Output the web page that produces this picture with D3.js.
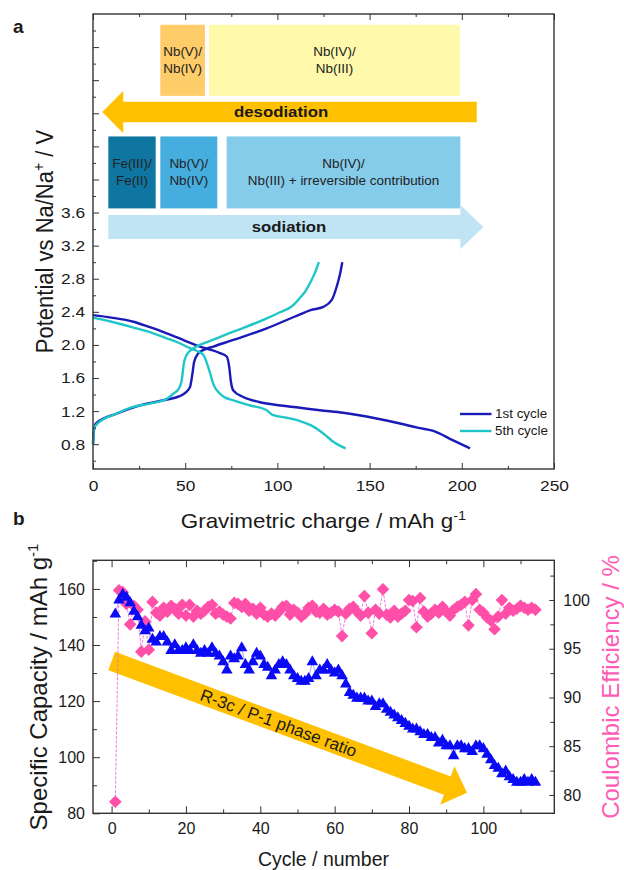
<!DOCTYPE html>
<html>
<head>
<meta charset="utf-8">
<script src="https://cdn.jsdelivr.net/npm/d3@7"></script>
<style>
  html, body { margin: 0; padding: 0; background: #fff; }
  svg { display: block; font-family: "Liberation Sans", Arial, sans-serif; }
</style>
</head>
<body>
<svg id="chart" width="624" height="870"></svg>
<script>
// ---------- panel a : galvanostatic profiles [capacity mAh/g, potential V] ----------
const cycle1Sodiation = [
  [0, 2.36], [10, 2.33], [21.9, 2.28], [30, 2.22], [40, 2.14], [50, 2.05], [58, 1.98],
  [64, 1.94], [68.9, 1.9], [72.5, 1.86], [73.9, 1.73], [74.7, 1.57], [76.1, 1.45],
  [81.5, 1.37], [90, 1.31], [97.8, 1.28], [112.3, 1.24], [123, 1.21], [135.7, 1.18],
  [153.8, 1.11], [166.5, 1.05], [176, 1.0], [184.6, 0.96], [195, 0.85], [204.4, 0.75]
];
const cycle1Desodiation = [
  [0, 0.8], [0.5, 0.96], [1.5, 1.05], [12.8, 1.17], [25.5, 1.27], [40, 1.34], [47, 1.38],
  [50, 1.42], [52.6, 1.49], [53.9, 1.65], [54.8, 1.79], [57.1, 1.9], [60, 1.94],
  [65.2, 1.98], [76.1, 2.06], [94.2, 2.2], [112.3, 2.37], [118, 2.42], [124.9, 2.46],
  [129.4, 2.54], [132.1, 2.7], [134, 2.86], [135.2, 3.0]
];
const cycle5Sodiation = [
  [0, 2.33], [10, 2.28], [21.9, 2.21], [30, 2.16], [40, 2.08], [47, 2.02], [52.6, 1.96],
  [57, 1.92], [59.8, 1.88], [62.5, 1.73], [64, 1.62], [65.2, 1.53], [68.9, 1.41],
  [72, 1.36], [76.1, 1.33], [85, 1.27], [94.2, 1.21], [97.8, 1.15], [105, 1.12],
  [112.3, 1.08], [118, 1.03], [123.1, 0.96], [127, 0.89], [130.3, 0.83], [137, 0.75]
];
const cycle5Desodiation = [
  [0, 0.8], [0.5, 0.98], [2, 1.04], [12.8, 1.17], [20, 1.24], [30.9, 1.29], [40, 1.35],
  [43.6, 1.41], [46.5, 1.47], [48.1, 1.57], [49.3, 1.78], [50.8, 1.88], [54, 1.95],
  [58, 2.0], [65, 2.06], [76.1, 2.16], [94.2, 2.32], [100, 2.38], [108.6, 2.48],
  [112.3, 2.57], [115.5, 2.66], [118, 2.76], [120.5, 2.88], [122.5, 3.0]
];
const profileSeries = [
  { name: "1st cycle", color: "#1a1ab8", parts: [cycle1Sodiation, cycle1Desodiation] },
  { name: "5th cycle", color: "#1fc6c8", parts: [cycle5Sodiation, cycle5Desodiation] }
];

// redox regions (capacity range, potential range) and process arrows
const desodiationBoxes = [
  { x0: 36.5, x1: 60.7, v0: 5.01, v1: 5.87, fill: "#ffcc6a", lines: ["Nb(V)/", "Nb(IV)"] },
  { x0: 62.9, x1: 199.0, v0: 5.01, v1: 5.87, fill: "#fef9ab", lines: ["Nb(IV)/", "Nb(III)"] }
];
const sodiationBoxes = [
  { x0: 8.3, x1: 34.0, v0: 3.65, v1: 4.52, fill: "#0f76a1", lines: ["Fe(III)/", "Fe(II)"] },
  { x0: 36.5, x1: 67.4, v0: 3.65, v1: 4.52, fill: "#46aedf", lines: ["Nb(V)/", "Nb(IV)"] },
  { x0: 72.5, x1: 199.2, v0: 3.65, v1: 4.52, fill: "#85cbea", lines: ["Nb(IV)/", "Nb(III) + irreversible contribution"] }
];
const processArrows = [
  { label: "desodiation", fill: "#ffc000", tail: 208.1, base: 16.4, tip: 5.0, mid: 4.815, body: 0.125, head: 0.255, labelX: 102 },
  { label: "sodiation", fill: "#c1e4f5", tail: 8.3, base: 199.2, tip: 211.7, mid: 3.425, body: 0.145, head: 0.27, labelX: 106.3 }
];

const capTicks = [0, 50, 100, 150, 200, 250];
const capMinor = [25, 75, 125, 175, 225];
const voltTicks = [0.8, 1.2, 1.6, 2.0, 2.4, 2.8, 3.2, 3.6, 4.0, 4.4, 4.8, 5.2, 5.6];
const voltLabelMax = 3.6;
const voltMinor = [0.6, 1.0, 1.4, 1.8, 2.2, 2.6, 3.0, 3.4, 3.8, 4.2, 4.6, 5.0, 5.4, 5.8];

// ---------- panel b : cycling (index + 1 = cycle number) ----------
const specificCapacity = [
  151, 156, 158, 157, 155, 152, 150, 147, 145, 146,
  142, 141, 143, 143, 141, 138, 140, 138, 138, 139,
  138, 140, 138, 137, 138, 137, 139, 137, 136, 134,
  131, 136, 135, 136, 139, 133, 131, 134, 137, 136,
  133, 132, 129, 131, 133, 134, 133, 131, 129, 128,
  127, 127, 128, 134, 129, 131, 131, 133, 131, 130,
  131, 129, 126, 123, 122, 121, 121, 121, 120, 120,
  118, 119, 119, 117, 116, 115, 114, 113, 112, 111,
  110, 110, 109, 108, 108, 107, 107, 105, 106, 104,
  104, 100.5, 104, 104, 103, 103, 102, 104, 104, 103,
  101, 99, 97, 96, 94, 95, 93, 92, 91, 91,
  92, 91, 92, 91
];
const coulombicEfficiency = [
  79.3, 101.0, 100.8, 99.6, 97.5, 99.4, 99.0, 94.7, 97.8, 94.9,
  99.8, 98.7, 98.4, 99.2, 98.8, 99.4, 99.1, 98.6, 99.5, 98.4,
  99.5, 98.3, 98.9, 98.6, 98.9, 99.3, 99.5, 98.6, 98.8, 98.5,
  98.3, 98.1, 99.7, 99.6, 99.3, 99.6, 98.9, 99.1, 98.6, 99.2,
  98.5, 98.3, 98.6, 98.4, 98.8, 99.3, 99.4, 98.5, 99.0, 98.7,
  98.3, 98.6, 99.2, 99.4, 98.8, 98.7, 99.1, 98.5, 98.7, 99.0,
  98.8, 96.3, 98.6, 99.1, 99.3, 98.8, 98.4, 100.4, 98.7, 96.6,
  99.0, 98.6, 101.1, 98.5, 98.2, 98.9, 98.3, 98.6, 98.9, 100.0,
  99.9, 97.2, 100.2, 98.8, 98.3, 98.6, 99.0, 98.7, 99.3, 98.8,
  98.4, 99.0, 99.3, 99.5, 99.8, 97.4, 100.0, 100.6, 99.0, 98.7,
  98.2, 97.9, 97.0, 98.3, 100.0, 98.6, 99.2, 98.9, 99.1, 99.4,
  99.2, 99.0, 99.2, 99.0
];
// phase-ratio trend arrow, from (cycle, capacity) to (cycle, capacity)
const phaseArrow = { from: [0.03, 134.3], to: [95.6, 87.3], label: "R-3c / P-1  phase ratio" };

const cycleTicks = [0, 20, 40, 60, 80, 100];
const cycleMinor = [10, 30, 50, 70, 90, 110];
const capBTicks = [80, 100, 120, 140, 160];
const capBMinor = [90, 110, 130, 150, 170];
const ceTicks = [80, 85, 90, 95, 100];
const ceMinor = [82.5, 87.5, 92.5, 97.5, 102.5];

// ---------- drawing ----------
const svg = d3.select("#chart");
const INK = "#1a1a1a";
const FRAME = "#333";
const SX_A = 1.12;   // panel a type is drawn a little wide

const xA = d3.scaleLinear().domain([0, 250]).range([93, 554]);
const yA = d3.scaleLinear().domain([0.5, 6.0]).range([469, 14]);
const xB = d3.scaleLinear().domain([-5, 119]).range([93, 554]);
const yB = d3.scaleLinear().domain([80, 170.2]).range([813.3, 560.3]);
const yCE = d3.scaleLinear().domain([78.12, 104.07]).range([813.3, 560.3]);

function wideText(g, x, y, sx, rot) {
  return g.append("text")
    .attr("transform", `translate(${x},${y}) scale(${sx},1)` + (rot ? ` rotate(${rot})` : ""));
}

function styleAxis(sel, sx, size) {
  sel.select(".domain").remove();
  sel.selectAll(".tick line").attr("stroke", FRAME).attr("stroke-width", 1);
  sel.selectAll(".tick text")
    .attr("fill", INK)
    .attr("font-size", size)
    .attr("font-family", "Liberation Sans, Arial, sans-serif")
    .attr("transform", `scale(${sx},1)`);
}

function drawAxis(g, axis, tx, ty, sx, size) {
  const a = g.append("g").attr("transform", `translate(${tx},${ty})`).call(axis);
  styleAxis(a, sx, size);
  return a;
}

// ===== panel a =====
const gA = svg.append("g");

// redox boxes
function drawBoxes(list) {
  list.forEach(b => {
    const x0 = xA(b.x0), x1 = xA(b.x1), y0 = yA(b.v1), y1 = yA(b.v0);
    gA.append("rect").attr("x", x0).attr("y", y0).attr("width", x1 - x0).attr("height", y1 - y0)
      .attr("fill", b.fill);
    const cy = (y0 + y1) / 2;
    b.lines.forEach((ln, i) => {
      wideText(gA, (x0 + x1) / 2, cy + (i - (b.lines.length - 1) / 2) * 16.5 + 4.3, SX_A)
        .attr("text-anchor", "middle").attr("font-size", 12).attr("fill", "#222").text(ln);
    });
  });
}
drawBoxes(desodiationBoxes);
drawBoxes(sodiationBoxes);

// process arrows
processArrows.forEach(a => {
  const yTop = yA(a.mid + a.body), yBot = yA(a.mid - a.body);
  const hTop = yA(a.mid + a.head), hBot = yA(a.mid - a.head), yMid = yA(a.mid);
  const pts = [
    [xA(a.tail), yTop], [xA(a.base), yTop], [xA(a.base), hTop], [xA(a.tip), yMid],
    [xA(a.base), hBot], [xA(a.base), yBot], [xA(a.tail), yBot]
  ];
  gA.append("polygon").attr("points", pts.map(p => p.join(",")).join(" ")).attr("fill", a.fill);
  wideText(gA, xA(a.labelX), yMid + 5.3, SX_A)
    .attr("text-anchor", "middle").attr("font-size", 15).attr("font-weight", "bold")
    .attr("fill", INK).text(a.label);
});

// profiles
const lineA = d3.line().x(d => xA(d[0])).y(d => yA(d[1])).curve(d3.curveMonotoneX);
profileSeries.forEach(s => {
  s.parts.forEach(p => {
    gA.append("path").attr("d", lineA(p)).attr("fill", "none")
      .attr("stroke", s.color).attr("stroke-width", 2.4).attr("stroke-linejoin", "round");
  });
});

// legend
profileSeries.forEach((s, i) => {
  const ly = 414 + i * 17;
  gA.append("line").attr("x1", 460).attr("x2", 491.5).attr("y1", ly).attr("y2", ly)
    .attr("stroke", s.color).attr("stroke-width", 2.4);
  wideText(gA, 495, ly + 4.3, SX_A).attr("font-size", 12).attr("fill", INK).text(s.name);
});

// axes a
drawAxis(gA, d3.axisBottom(xA).tickValues(capTicks).tickSize(-6).tickPadding(11).tickFormat(d3.format("d")), 0, 469, SX_A, 15.5);
drawAxis(gA, d3.axisBottom(xA).tickValues(capMinor).tickSize(-3).tickFormat(""), 0, 469, 1, 10);
drawAxis(gA, d3.axisTop(xA).tickValues(capTicks).tickSize(-6).tickFormat(""), 0, 14, 1, 10);
drawAxis(gA, d3.axisTop(xA).tickValues(capMinor).tickSize(-3).tickFormat(""), 0, 14, 1, 10);
drawAxis(gA, d3.axisLeft(yA).tickValues(voltTicks).tickSize(-6).tickPadding(7)
  .tickFormat(d => d <= voltLabelMax + 1e-9 ? d.toFixed(1) : ""), 93, 0, SX_A, 15.5);
drawAxis(gA, d3.axisLeft(yA).tickValues(voltMinor).tickSize(-3).tickFormat(""), 93, 0, 1, 10);

gA.append("rect").attr("x", 93).attr("y", 14).attr("width", 461).attr("height", 455)
  .attr("fill", "none").attr("stroke", FRAME).attr("stroke-width", 1.4);

// titles a
const tYA = wideText(gA, 53, 241.5, SX_A, -90).attr("text-anchor", "middle")
  .attr("font-size", 22).attr("fill", INK);
tYA.append("tspan").text("Potential vs Na/Na");
tYA.append("tspan").attr("dy", -8).attr("font-size", 14).text("+");
tYA.append("tspan").attr("dy", 8).text(" / V");

const tXA = wideText(gA, 323.5, 528, SX_A).attr("text-anchor", "middle")
  .attr("font-size", 20).attr("fill", INK);
tXA.append("tspan").text("Gravimetric charge / mAh g");
tXA.append("tspan").attr("dy", -8).attr("font-size", 13).text("-1");

wideText(gA, 13, 33, 1).attr("font-size", 19).attr("font-weight", "bold").attr("fill", INK).text("a");

// ===== panel b =====
const gB = svg.append("g");

// phase-ratio arrow
{
  const p0 = [xB(phaseArrow.from[0]), yB(phaseArrow.from[1])];
  const p1 = [xB(phaseArrow.to[0]), yB(phaseArrow.to[1])];
  const dx = p1[0] - p0[0], dy = p1[1] - p0[1], len = Math.hypot(dx, dy);
  const u = [dx / len, dy / len], n = [-u[1], u[0]];
  const bw = 19.5 / 2, hw = 41 / 2, hl = 21;
  const hb = [p1[0] - u[0] * hl, p1[1] - u[1] * hl];
  const off = (p, s) => [p[0] + n[0] * s, p[1] + n[1] * s];
  const pts = [off(p0, -bw), off(hb, -bw), off(hb, -hw), p1, off(hb, hw), off(hb, bw), off(p0, bw)];
  gB.append("polygon").attr("points", pts.map(p => p.join(",")).join(" ")).attr("fill", "#ffc000");
  const ang = Math.atan2(dy, dx) * 180 / Math.PI;
  const c = [p0[0] + u[0] * len * 0.47, p0[1] + u[1] * len * 0.47];
  gB.append("text").attr("transform", `translate(${c[0]},${c[1]}) rotate(${ang})`)
    .attr("text-anchor", "middle").attr("dy", "0.35em").attr("font-size", 17)
    .attr("fill", INK).text(phaseArrow.label);
}

// connecting lines
const ceLine = d3.line().x((d, i) => xB(i + 1)).y(d => yCE(d));
const capLine = d3.line().x((d, i) => xB(i + 1)).y(d => yB(d));
gB.append("path").attr("d", ceLine(coulombicEfficiency)).attr("fill", "none")
  .attr("stroke", "#f06ad6").attr("stroke-width", 0.9).attr("stroke-dasharray", "3,1.5");
gB.append("path").attr("d", capLine(specificCapacity)).attr("fill", "none")
  .attr("stroke", "#7f7fff").attr("stroke-width", 0.7);

// markers
const diamond = d3.symbol().type(d3.symbolSquare).size(80);
gB.append("g").selectAll("path").data(coulombicEfficiency).join("path")
  .attr("d", diamond)
  .attr("transform", (d, i) => `translate(${xB(i + 1)},${yCE(d)}) rotate(45)`)
  .attr("fill", "#ff4fa8");
const tri = d3.symbol().type(d3.symbolTriangle).size(58);
gB.append("g").selectAll("path").data(specificCapacity).join("path")
  .attr("d", tri)
  .attr("transform", (d, i) => `translate(${xB(i + 1)},${yB(d)})`)
  .attr("fill", "#0a0af5");

// axes b
drawAxis(gB, d3.axisBottom(xB).tickValues(cycleTicks).tickSize(-7).tickPadding(9).tickFormat(d3.format("d")), 0, 813.3, 1, 16);
drawAxis(gB, d3.axisBottom(xB).tickValues(cycleMinor).tickSize(-4).tickFormat(""), 0, 813.3, 1, 10);
drawAxis(gB, d3.axisTop(xB).tickValues(cycleTicks).tickSize(-7).tickFormat(""), 0, 560.3, 1, 10);
drawAxis(gB, d3.axisTop(xB).tickValues(cycleMinor).tickSize(-4).tickFormat(""), 0, 560.3, 1, 10);
drawAxis(gB, d3.axisLeft(yB).tickValues(capBTicks).tickSize(-7).tickPadding(8).tickFormat(d3.format("d")), 93, 0, 1, 16);
drawAxis(gB, d3.axisLeft(yB).tickValues(capBMinor).tickSize(-4).tickFormat(""), 93, 0, 1, 10);
drawAxis(gB, d3.axisRight(yCE).tickValues(ceTicks).tickSize(-5).tickPadding(9).tickFormat(d3.format("d")), 554.3, 0, 1, 16);
drawAxis(gB, d3.axisRight(yCE).tickValues(ceMinor).tickSize(-4).tickFormat(""), 554.3, 0, 1, 10);

gB.append("rect").attr("x", 93).attr("y", 560.3).attr("width", 461.3).attr("height", 253)
  .attr("fill", "none").attr("stroke", FRAME).attr("stroke-width", 1.4);

// titles b
const tYB = gB.append("text").attr("transform", "translate(47,687) rotate(-90)")
  .attr("text-anchor", "middle").attr("font-size", 24).attr("fill", INK);
tYB.append("tspan").text("Specific Capacity / mAh g");
tYB.append("tspan").attr("dy", -9).attr("font-size", 15).text("-1");

gB.append("text").attr("transform", "translate(619,687) rotate(-90)")
  .attr("text-anchor", "middle").attr("font-size", 24).attr("fill", "#ff5db5")
  .text("Coulombic Efficiency / %");

gB.append("text").attr("x", 323.5).attr("y", 866).attr("text-anchor", "middle")
  .attr("font-size", 19.5).attr("fill", INK).text("Cycle / number");

gB.append("text").attr("x", 13).attr("y", 525).attr("font-size", 19)
  .attr("font-weight", "bold").attr("fill", INK).text("b");
</script>
</body>
</html>
